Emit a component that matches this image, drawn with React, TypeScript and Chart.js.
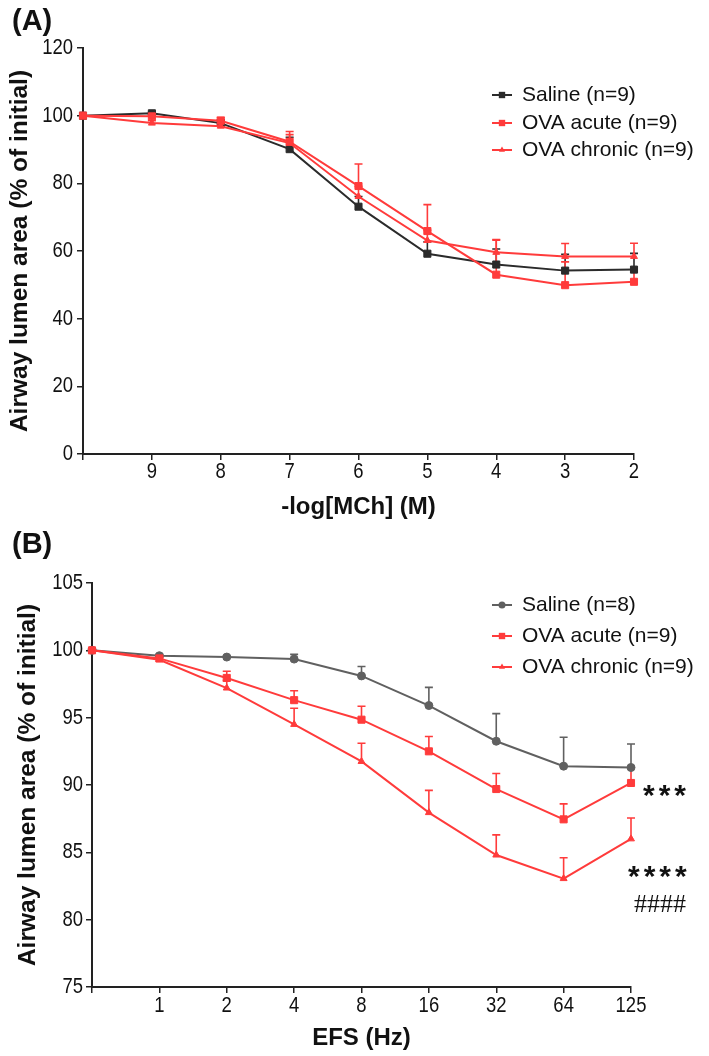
import React, { useEffect, useRef } from 'react';
import { Chart, registerables } from 'chart.js';
import { drawPoint } from 'chart.js/helpers';

Chart.register(...registerables);

// ---------------- DATA ----------------
// Panel A: methacholine concentration-response
const mchLabels = ['', '9', '8', '7', '6', '5', '4', '3', '2'];
const salineA = [100, 100.7, 97.8, 90.1, 73.1, 59.2, 56.0, 54.2, 54.5];
const salineAErr = [0, 0.4, 1.0, 3.5, 3.0, 3.5, 4.6, 4.8, 4.8];
const acuteA = [100, 99.8, 98.5, 92.3, 79.2, 65.9, 53.0, 49.9, 50.9];
const acuteAErr = [0, 0.8, 1.0, 3.0, 6.5, 7.8, 10.4, 6.9, 3.0];
const chronicA = [100, 97.8, 96.9, 91.9, 76.1, 63.1, 59.6, 58.4, 58.4];
const chronicAErr = [0, 0.7, 0.8, 2.5, 3.0, 3.0, 3.6, 3.8, 3.9];
const legendA = ['Saline (n=9)', 'OVA acute (n=9)', 'OVA chronic (n=9)'];

// Panel B: EFS frequency-response
const efsLabels = ['', '1', '2', '4', '8', '16', '32', '64', '125'];
const salineB = [100, 99.6, 99.5, 99.35, 98.1, 95.9, 93.25, 91.4, 91.3];
const salineBErr = [0, 0.1, 0.1, 0.35, 0.7, 1.35, 2.05, 2.15, 1.75];
const acuteB = [100, 99.4, 97.95, 96.3, 94.85, 92.5, 89.7, 87.45, 90.15];
const acuteBErr = [0, 0.15, 0.5, 0.7, 1.0, 1.1, 1.15, 1.15, 1.15];
const chronicB = [100, 99.3, 97.2, 94.5, 91.75, 87.95, 84.8, 83.05, 86.0];
const chronicBErr = [0, 0.15, 0.55, 1.2, 1.35, 1.65, 1.5, 1.55, 1.55];
const legendB = ['Saline (n=8)', 'OVA acute (n=9)', 'OVA chronic (n=9)'];

const yTitle = 'Airway lumen area (% of initial)';
const xTitleA = '-log[MCh] (M)';
const xTitleB = 'EFS (Hz)';

// ---------------- STYLE ----------------
const SANS = '"Liberation Sans", Arial, Helvetica, sans-serif';
const SERIF = '"Liberation Serif", "Times New Roman", serif';
const RED = '#ff3b3b';
const BLACK = '#2b2b2b';
const GREY = '#606060';
const AXIS = '#222222';
const W = 709;
const TICK_SIZE = 22;
const TICK_SQUEEZE = 0.84;
const TICK_LEN = 6;

type Ann = { text: string; font: string; xOff: number; value: number; spacing?: string };
type Spec = {
  height: number;
  area: { left: number; top: number; right: number; bottom: number };
  labels: string[];
  series: { label: string; values: number[]; errors: number[]; color: string; style: string; radius: number }[];
  yMin: number; yMax: number; yStep: number;
  letter: string; letterY: number;
  xTitle: string; xTitleY: number;
  yTitleX: number;
  legendX: number; legendRows: number[];
  annotations: Ann[];
  tickPadX: number; tickPadY: number;
};

const errorBarPlugin = {
  id: 'errorBars',
  beforeDatasetsDraw(chart: any) {
    const ctx = chart.ctx;
    const ys = chart.scales.y;
    chart.data.datasets.forEach((ds: any, i: number) => {
      const meta = chart.getDatasetMeta(i);
      const errs: number[] = ds.errorBars;
      if (!errs) return;
      ctx.save();
      ctx.strokeStyle = ds.borderColor;
      ctx.lineWidth = 1.6;
      meta.data.forEach((pt: any, j: number) => {
        const e = errs[j];
        if (!e) return;
        const x = pt.x;
        const y0 = pt.y;
        const y1 = ys.getPixelForValue(ds.data[j] + e);
        ctx.beginPath();
        ctx.moveTo(x, y0);
        ctx.lineTo(x, y1);
        ctx.moveTo(x - 4, y1);
        ctx.lineTo(x + 4, y1);
        ctx.stroke();
      });
      ctx.restore();
    });
  },
};

function makeDecor(spec: Spec) {
  return {
    id: 'decor',
    afterDraw(chart: any) {
      const ctx = chart.ctx;
      const ca = chart.chartArea;
      ctx.save();
      ctx.fillStyle = '#111';

      // condensed tick labels (from the scales' own ticks)
      const xs = chart.scales.x;
      const ys = chart.scales.y;
      ctx.font = `${TICK_SIZE}px ${SANS}`;
      ctx.textBaseline = 'middle';
      ctx.textAlign = 'right';
      ys.ticks.forEach((t: any, i: number) => {
        const py = ys.getPixelForTick(i);
        ctx.save();
        ctx.translate(ca.left - TICK_LEN - spec.tickPadY, py);
        ctx.scale(TICK_SQUEEZE, 1);
        ctx.fillText(String(t.label), 0, 0);
        ctx.restore();
      });
      ctx.textAlign = 'center';
      ctx.textBaseline = 'top';
      xs.ticks.forEach((t: any, i: number) => {
        const px = xs.getPixelForTick(i);
        const lbl = xs.getLabelForValue(t.value);
        if (!lbl) return;
        ctx.save();
        ctx.translate(px, ca.bottom + TICK_LEN + spec.tickPadX);
        ctx.scale(TICK_SQUEEZE, 1);
        ctx.fillText(String(lbl), 0, 0);
        ctx.restore();
      });

      // panel letter
      ctx.font = `bold 29px ${SANS}`;
      ctx.textAlign = 'left';
      ctx.textBaseline = 'alphabetic';
      ctx.fillText(spec.letter, 12, spec.letterY);
      // x title
      ctx.font = `bold 24px ${SANS}`;
      ctx.textAlign = 'center';
      ctx.textBaseline = 'middle';
      ctx.fillText(spec.xTitle, (ca.left + ca.right) / 2, spec.xTitleY);
      // y title
      ctx.save();
      ctx.font = `bold 24.5px ${SANS}`;
      ctx.translate(spec.yTitleX, (ca.top + ca.bottom) / 2);
      ctx.rotate(-Math.PI / 2);
      ctx.fillText(yTitle, 0, 0);
      ctx.restore();
      // legend
      ctx.font = `21px ${SANS}`;
      ctx.textAlign = 'left';
      ctx.textBaseline = 'middle';
      chart.data.datasets.forEach((ds: any, i: number) => {
        const y = spec.legendRows[i];
        const x0 = spec.legendX;
        ctx.strokeStyle = ds.borderColor;
        ctx.lineWidth = 2;
        ctx.beginPath();
        ctx.moveTo(x0, y);
        ctx.lineTo(x0 + 20, y);
        ctx.stroke();
        ctx.fillStyle = ds.borderColor;
        drawPoint(ctx, { pointStyle: ds.pointStyle, radius: ds.pointRadius - 0.5, borderWidth: 0, rotation: 0 } as any, x0 + 10, y);
        ctx.fillStyle = '#111';
        ctx.fillText(ds.label, x0 + 30, y);
      });
      // significance annotations
      spec.annotations.forEach((a) => {
        ctx.font = a.font;
        (ctx as any).letterSpacing = a.spacing || '0px';
        ctx.textAlign = 'left';
        ctx.textBaseline = 'middle';
        ctx.fillStyle = '#111';
        ctx.fillText(a.text, ca.right + a.xOff, ys.getPixelForValue(a.value));
      });
      (ctx as any).letterSpacing = '0px';
      ctx.restore();
    },
  };
}

function buildConfig(spec: Spec): any {
  const { area } = spec;
  return {
    type: 'line',
    data: {
      labels: spec.labels,
      datasets: spec.series.map((s, i) => ({
        label: s.label,
        data: s.values,
        errorBars: s.errors,
        borderColor: s.color,
        backgroundColor: s.color,
        pointBackgroundColor: s.color,
        pointBorderColor: s.color,
        pointBorderWidth: 1,
        pointStyle: s.style,
        pointRadius: s.radius,
        borderWidth: 2,
        tension: 0,
        fill: false,
        order: 3 - i,
      })),
    },
    options: {
      responsive: false,
      animation: false,
      devicePixelRatio: 1,
      layout: { padding: { left: 0, top: area.top, right: W - area.right, bottom: 0 } },
      plugins: { legend: { display: false }, tooltip: { enabled: false }, title: { display: false } },
      scales: {
        x: {
          type: 'category',
          offset: false,
          grid: { display: true, drawOnChartArea: false, drawTicks: true, tickLength: TICK_LEN, color: AXIS, lineWidth: 1.5 },
          border: { display: true, color: AXIS, width: 2 },
          ticks: { display: false, autoSkip: false, maxRotation: 0 },
          afterFit: (s: any) => { s.height = spec.height - area.bottom; },
        },
        y: {
          min: spec.yMin,
          max: spec.yMax,
          grid: { display: true, drawOnChartArea: false, drawTicks: true, tickLength: TICK_LEN, color: AXIS, lineWidth: 1.5 },
          border: { display: true, color: AXIS, width: 2 },
          ticks: { display: false, stepSize: spec.yStep },
          afterFit: (s: any) => { s.width = area.left; },
        },
      },
    },
    plugins: [errorBarPlugin, makeDecor(spec)],
  };
}

const specA: Spec = {
  height: 525,
  area: { left: 83, top: 48, right: 634, bottom: 454 },
  labels: mchLabels,
  series: [
    { label: legendA[0], values: salineA, errors: salineAErr, color: BLACK, style: 'rect', radius: 5 },
    { label: legendA[1], values: acuteA, errors: acuteAErr, color: RED, style: 'rect', radius: 5 },
    { label: legendA[2], values: chronicA, errors: chronicAErr, color: RED, style: 'triangle', radius: 4 },
  ],
  yMin: 0, yMax: 120, yStep: 20,
  letter: '(A)', letterY: 30,
  xTitle: xTitleA, xTitleY: 507,
  yTitleX: 20,
  legendX: 492, legendRows: [95, 123, 150],
  annotations: [],
  tickPadX: 1, tickPadY: 4,
};

const specB: Spec = {
  height: 531,
  area: { left: 92, top: 58, right: 631, bottom: 462 },
  labels: efsLabels,
  series: [
    { label: legendB[0], values: salineB, errors: salineBErr, color: GREY, style: 'circle', radius: 4 },
    { label: legendB[1], values: acuteB, errors: acuteBErr, color: RED, style: 'rect', radius: 5 },
    { label: legendB[2], values: chronicB, errors: chronicBErr, color: RED, style: 'triangle', radius: 4 },
  ],
  yMin: 75, yMax: 105, yStep: 5,
  letter: '(B)', letterY: 28,
  xTitle: xTitleB, xTitleY: 513,
  yTitleX: 28,
  legendX: 492, legendRows: [80, 111, 142],
  annotations: [
    { text: '***', font: `bold 30px ${SANS}`, xOff: 12, value: 89.1, spacing: '4px' },
    { text: '****', font: `bold 30px ${SANS}`, xOff: -3, value: 83.1, spacing: '4px' },
    { text: '####', font: `26px ${SERIF}`, xOff: 3, value: 81.1 },
  ],
  tickPadX: 2, tickPadY: 3,
};

function Panel({ spec }: { spec: Spec }) {
  const ref = useRef<HTMLCanvasElement>(null);
  useEffect(() => {
    const chart = new Chart(ref.current as HTMLCanvasElement, buildConfig(spec));
    return () => chart.destroy();
  }, [spec]);
  return (
    <canvas
      ref={ref}
      width={W}
      height={spec.height}
      style={{ display: 'block', width: W, height: spec.height }}
    />
  );
}

export default function App() {
  return (
    <div style={{ position: 'absolute', left: 0, top: 0, width: W, height: 1056, background: '#ffffff' }}>
      <Panel spec={specA} />
      <Panel spec={specB} />
    </div>
  );
}
